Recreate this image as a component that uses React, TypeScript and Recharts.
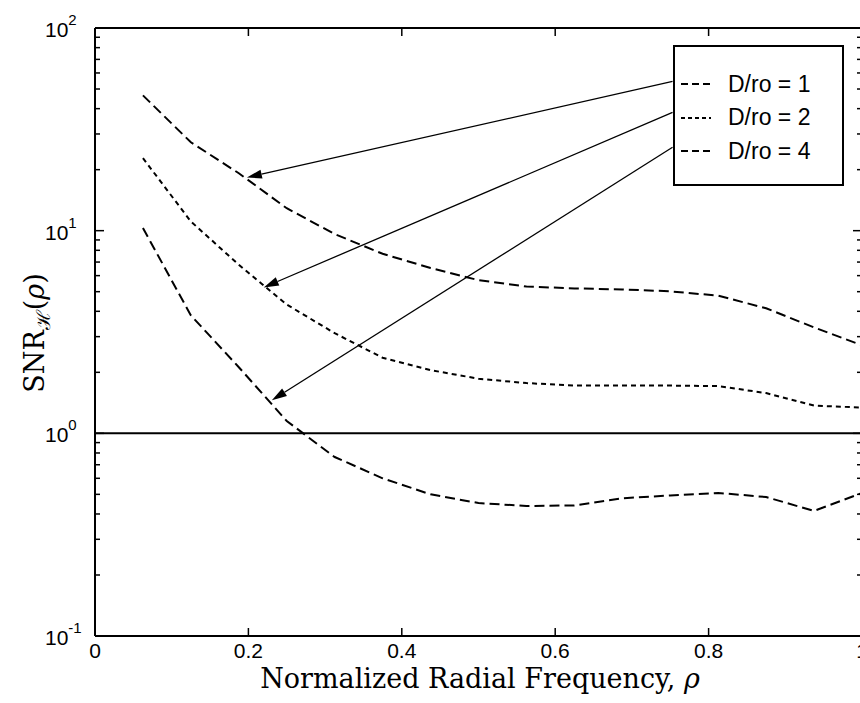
import React from 'react';
import { LineChart, Line, XAxis, YAxis, ReferenceLine, Legend } from 'recharts';

// Normalized radial frequency samples
const rho = [0.0625, 0.125, 0.1875, 0.25, 0.3125, 0.375, 0.4375, 0.5, 0.5625, 0.625, 0.6875, 0.75, 0.8125, 0.875, 0.9375, 1.0];
// SNR for D/ro = 1, 2, 4
const snrD1 = [46.5, 27.3, 19.2, 12.9, 9.62, 7.69, 6.54, 5.7, 5.3, 5.19, 5.13, 5.02, 4.78, 4.14, 3.33, 2.72];
const snrD2 = [22.8, 11.1, 6.79, 4.32, 3.12, 2.36, 2.05, 1.86, 1.77, 1.72, 1.72, 1.72, 1.71, 1.58, 1.37, 1.34];
const snrD4 = [10.3, 3.82, 2.12, 1.15, 0.764, 0.6, 0.5, 0.453, 0.438, 0.441, 0.478, 0.494, 0.508, 0.485, 0.414, 0.508];

const seriesNames = ['D/ro = 1', 'D/ro = 2', 'D/ro = 4'];
const seriesKeys = ['d1', 'd2', 'd4'];
const seriesDash = ['10 5', '5 4', '10 5'];
const legendDash = ['7 4', '4 3', '7 4'];

const xTicks = [0, 0.2, 0.4, 0.6, 0.8, 1];
const xTickLabels = ['0', '0.2', '0.4', '0.6', '0.8', '1'];
const yMajor = [0.1, 1, 10, 100];
const yExponents = ['-1', '0', '1', '2'];
const yTicks = [
  0.1, 0.2, 0.3, 0.4, 0.5, 0.6, 0.7, 0.8, 0.9,
  1, 2, 3, 4, 5, 6, 7, 8, 9,
  10, 20, 30, 40, 50, 60, 70, 80, 90,
  100,
];

// Arrow annotations (legend -> curves)
const arrowTailRho = [0.753, 0.753, 0.753];
const arrowTailSnr = [54.5, 38.3, 25.8];
const arrowTipRho = [0.198, 0.22, 0.2306];
const arrowTipSnr = [18.3, 5.25, 1.455];

const data = rho.map((r, i) => ({ rho: r, d1: snrD1[i], d2: snrD2[i], d4: snrD4[i] }));

const SANS = '"Liberation Sans", Arial, Helvetica, sans-serif';
const SERIF = '"DejaVu Serif", "Liberation Serif", serif';

const BottomTick = (props: any) => {
  const { x, y, payload } = props;
  const idx = xTicks.indexOf(payload.value);
  return (
    <g>
      <line x1={x} y1={y} x2={x} y2={y - 8} stroke="#000" strokeWidth={1.5} />
      <text x={x} y={y + 22} textAnchor="middle" fontFamily={SANS} fontSize={21} fill="#000">
        {idx >= 0 ? xTickLabels[idx] : ''}
      </text>
    </g>
  );
};

const TopTick = (props: any) => {
  const { x, y } = props;
  return <line x1={x} y1={y} x2={x} y2={y + 8} stroke="#000" strokeWidth={1.5} />;
};

const LeftTick = (props: any) => {
  const { x, y, payload } = props;
  const mi = yMajor.indexOf(payload.value);
  const major = mi >= 0;
  return (
    <g>
      <line x1={x} y1={y} x2={x + (major ? 9 : 5)} y2={y} stroke="#000" strokeWidth={1.5} />
      {major && (
        <text x={x - 50} y={y + 9} fontFamily={SANS} fontSize={21} fill="#000">
          10
          <tspan dy={-12} fontSize={15}>{yExponents[mi]}</tspan>
        </text>
      )}
    </g>
  );
};

const RightTick = (props: any) => {
  const { x, y, payload } = props;
  const major = yMajor.indexOf(payload.value) >= 0;
  return <line x1={x} y1={y} x2={x - (major ? 9 : 5)} y2={y} stroke="#000" strokeWidth={1.5} />;
};

const Arrow = (props: any) => {
  const { x1, y1, x2, y2 } = props;
  const dx = x2 - x1;
  const dy = y2 - y1;
  const len = Math.hypot(dx, dy) || 1;
  const ux = dx / len;
  const uy = dy / len;
  const L = 15;
  const W = 4.5;
  const bx = x2 - ux * L;
  const by = y2 - uy * L;
  const px = -uy * W;
  const py = ux * W;
  return (
    <g>
      <line x1={x1} y1={y1} x2={bx} y2={by} stroke="#000" strokeWidth={1.3} />
      <polygon points={`${x2},${y2} ${bx + px},${by + py} ${bx - px},${by - py}`} fill="#000" />
    </g>
  );
};

const LegendBox = () => (
  <div
    style={{
      width: 171,
      height: 141,
      boxSizing: 'border-box',
      border: '2px solid #000',
      background: '#fff',
      position: 'relative',
      fontFamily: SANS,
      fontSize: 23,
      color: '#000',
    }}
  >
    {seriesNames.map((name, i) => (
      <div
        key={name}
        style={{
          position: 'absolute',
          left: 6,
          top: 24 + i * 33.5,
          height: 26,
          display: 'flex',
          alignItems: 'center',
          whiteSpace: 'nowrap',
        }}
      >
        <svg width={30} height={4} style={{ display: 'block' }}>
          <line x1={0} y1={2} x2={30} y2={2} stroke="#000" strokeWidth={2} strokeDasharray={legendDash[i]} />
        </svg>
        <span style={{ marginLeft: 17 }}>{name}</span>
      </div>
    ))}
  </div>
);

export default function App() {
  return (
    <div style={{ position: 'fixed', left: 0, top: 0, width: 860, height: 703, overflow: 'hidden', background: '#fff' }}>
      <LineChart width={880} height={703} data={data} margin={{ top: 27, right: 17, bottom: 0, left: 0 }}>
        <XAxis
          dataKey="rho"
          type="number"
          domain={[0, 1]}
          ticks={xTicks}
          interval={0}
          allowDataOverflow
          height={67}
          tickSize={0}
          tickMargin={0}
          tickLine={false}
          tick={<BottomTick />}
          axisLine={{ stroke: '#000', strokeWidth: 2 }}
          label={{
            content: () => (
              <text x={480} y={688} textAnchor="middle" fontFamily={SERIF} fontSize={27} fill="#000">
                Normalized Radial Frequency, <tspan fontStyle="italic">ρ</tspan>
              </text>
            ),
          }}
        />
        <XAxis
          xAxisId="top"
          dataKey="rho"
          orientation="top"
          type="number"
          domain={[0, 1]}
          ticks={xTicks}
          interval={0}
          allowDataOverflow
          height={1}
          tickSize={0}
          tickMargin={0}
          tickLine={false}
          tick={<TopTick />}
          axisLine={{ stroke: '#000', strokeWidth: 2 }}
        />
        <YAxis
          type="number"
          scale="log"
          domain={[0.1, 100]}
          ticks={yTicks}
          interval={0}
          allowDataOverflow
          width={95}
          tickSize={0}
          tickMargin={0}
          tickLine={false}
          tick={<LeftTick />}
          axisLine={{ stroke: '#000', strokeWidth: 2 }}
          label={{
            content: () => (
              <text
                transform="translate(44,333) rotate(-90)"
                textAnchor="middle"
                fontFamily={SERIF}
                fontSize={27}
                fill="#000"
              >
                SNR
                <tspan dy={6} fontSize={19}>ℋ</tspan>
                <tspan dy={-6} fontSize={27}>(</tspan>
                <tspan fontStyle="italic">ρ</tspan>
                <tspan>)</tspan>
              </text>
            ),
          }}
        />
        <YAxis
          yAxisId="right"
          orientation="right"
          type="number"
          scale="log"
          domain={[0.1, 100]}
          ticks={yTicks}
          interval={0}
          allowDataOverflow
          width={1}
          tickSize={0}
          tickMargin={0}
          tickLine={false}
          tick={<RightTick />}
          axisLine={{ stroke: '#000', strokeWidth: 2 }}
        />
        <ReferenceLine y={1} stroke="#000" strokeWidth={2} />
        {seriesKeys.map((k, i) => (
          <Line
            key={k}
            dataKey={k}
            name={seriesNames[i]}
            type="linear"
            stroke="#000"
            strokeWidth={2}
            strokeDasharray={seriesDash[i]}
            dot={false}
            activeDot={false}
            isAnimationActive={false}
          />
        ))}
        {arrowTipRho.map((tx, i) => (
          <ReferenceLine
            key={`arrow-${i}`}
            segment={[
              { x: arrowTailRho[i], y: arrowTailSnr[i] },
              { x: tx, y: arrowTipSnr[i] },
            ]}
            shape={<Arrow />}
            ifOverflow="visible"
          />
        ))}
        <Legend
          layout="horizontal"
          align="center"
          verticalAlign="middle"
          wrapperStyle={{ left: 673, top: 45, width: 171, height: 141 }}
          content={() => <LegendBox />}
        />
      </LineChart>
    </div>
  );
}
